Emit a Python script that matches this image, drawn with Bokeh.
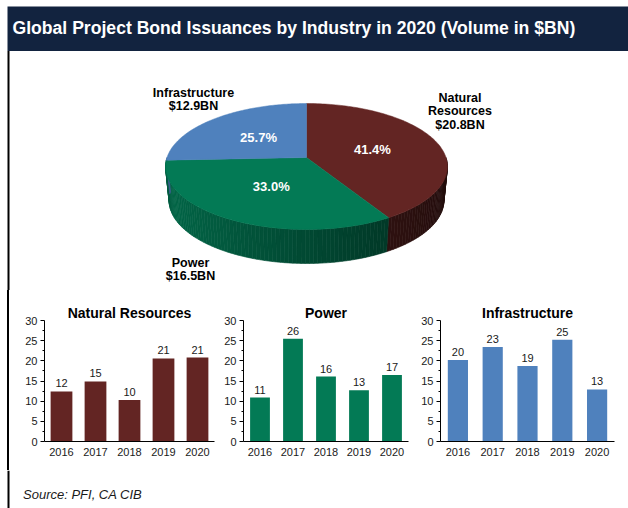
import numpy as np
from bokeh.plotting import figure
from bokeh.layouts import row, column
from bokeh.models import Range1d, FactorRange, FixedTicker, Spacer
from bokeh.embed import file_html
from bokeh.resources import INLINE
from bokeh.core.properties import value

# ---------------- data ----------------
TITLE = "Global Project Bond Issuances by Industry in 2020 (Volume in $BN)"
SOURCE = "Source: PFI, CA CIB"

industries = ["Natural Resources", "Power", "Infrastructure"]
volumes_2020 = [20.8, 16.5, 12.9]
shares = [41.4, 33.0, 25.7]
share_labels = ["41.4%", "33.0%", "25.7%"]
pie_label_lines = [["Natural", "Resources", "$20.8BN"],
                   ["Power", "$16.5BN"],
                   ["Infrastructure", "$12.9BN"]]

years = ["2016", "2017", "2018", "2019", "2020"]
nr_values = [12.4, 14.9, 10.3, 20.6, 20.8]
nr_labels = ["12", "15", "10", "21", "21"]
power_values = [10.9, 25.5, 16.1, 12.7, 16.5]
power_labels = ["11", "26", "16", "13", "17"]
infra_values = [20.2, 23.4, 18.7, 25.2, 12.9]
infra_labels = ["20", "23", "19", "25", "13"]

# ---------------- styles ----------------
FONT = "Liberation Sans"
NAVY = "#12233f"
COLORS = ["#632523", "#037a55", "#4f81bd"]
TEXT = "#1a1a1a"
W, H = 628, 508


def hex_rgb(h):
    h = h.lstrip("#")
    return tuple(int(h[i:i + 2], 16) for i in (0, 2, 4))


def shade(h, f):
    r, g, b = hex_rgb(h)
    return "#%02x%02x%02x" % (int(r * f), int(g * f), int(b * f))


# ---------------- top panel (title + 3D pie) ----------------
TOP_H = 290
top = figure(width=W, height=TOP_H, x_range=Range1d(0, W), y_range=Range1d(TOP_H, 0),
             output_backend="svg", toolbar_location=None, min_border=0,
             x_axis_type=None, y_axis_type=None)
top.grid.visible = False
top.outline_line_color = None
top.background_fill_color = "white"
top.border_fill_color = "white"

# title bar and left rule
top.quad(left=7, right=W, top=6, bottom=50.5, fill_color=NAVY, line_color=None)
top.quad(left=7, right=9, top=50.5, bottom=TOP_H, fill_color="black", line_color=None)
top.text(x=[12], y=[27], text=[TITLE], text_font=value(FONT), text_font_style="bold",
         text_font_size="17.6px", text_color="white", text_baseline="middle", text_align="left")

# pie geometry (perspective projection of a disc)
CX, CY, A, B, K, DEPTH, SB = 306.0, 157.0, 139.5, 61.7, 0.143, 34.0, 0.975


def proj(t_deg, r=1.0, bottom=False):
    t = np.radians(t_deg)
    u, v = r * np.cos(t), r * np.sin(t)
    d = 1 - K * v
    if bottom:
        return CX + A * SB * u / d, CY + DEPTH + B * v / d
    return CX + A * u / d, CY + B * v / d


fr = np.array(shares) / sum(shares)
starts = -90 + 360 * np.concatenate([[0], np.cumsum(fr)[:-1]])
ends = starts + 360 * fr

# side walls (front half), shaded strips
side_xs, side_ys, side_cols = [], [], []
for s, e, c in zip(starts, ends, COLORS):
    lo, hi = max(s, 0.0), min(e, 180.0)
    if hi <= lo:
        continue
    n = max(2, int((hi - lo) / 1.5))
    ts = np.linspace(lo, hi, n + 1)
    for t1, t2 in zip(ts[:-1], ts[1:]):
        x1, y1 = proj(t1)
        x2, y2 = proj(t2)
        bx2, by2 = proj(t2, bottom=True)
        bx1, by1 = proj(t1, bottom=True)
        side_xs.append([x1, x2, bx2, bx1])
        side_ys.append([y1, y2, by2, by1])
        um = np.cos(np.radians((t1 + t2) / 2))
        f = 0.85 - 0.5 * (um + 1) / 2
        if um < -0.9:
            f *= 1 - (-0.9 - um) * 1.2
        side_cols.append(shade(c, f))
top.patches(side_xs, side_ys, fill_color=side_cols, line_color=side_cols, line_width=0.6)

# top faces
for s, e, c in zip(starts, ends, COLORS):
    ts = np.linspace(s, e, 120)
    xs, ys = proj(ts)
    top.patch(np.concatenate([[CX], xs]), np.concatenate([[CY], ys]),
              fill_color=c, line_color=c, line_width=0.5)

# percentage labels at half radius of mid angle
mids = (starts + ends) / 2
lx, ly = proj(mids, r=0.5)
top.text(x=list(lx), y=list(ly), text=share_labels, text_font=value(FONT),
         text_font_style="bold", text_font_size="13px", text_color="white",
         text_align="center", text_baseline="middle")

# outer labels
label_anchor_x = [459.5, 190, 193]
label_anchor_y = [97, 262, 92]
LINE_H = 13.6
ox, oy, ot = [], [], []
for lines, ax, ay in zip(pie_label_lines, label_anchor_x, label_anchor_y):
    for i, txt in enumerate(lines):
        ox.append(ax)
        oy.append(ay + i * LINE_H)
        ot.append(txt)
top.text(x=ox, y=oy, text=ot, text_font=value(FONT), text_font_style="bold",
         text_font_size="12.5px", text_color="black", text_align="center",
         text_baseline="middle")

# ---------------- bar charts ----------------
ROW_H = 180


def bar_chart(title, vals, labels, color, width, mbl, mbr, mbt, mbb, bar_w, t_off):
    p = figure(width=width, height=ROW_H, x_range=FactorRange(*years), y_range=Range1d(0, 30),
               output_backend="svg", toolbar_location=None, title=title,
               min_border_left=mbl, min_border_right=mbr, min_border_top=mbt,
               min_border_bottom=mbb)
    p.title.text_font = FONT
    p.title.text_font_size = "14px"
    p.title.text_font_style = "bold"
    p.title.text_color = "black"
    p.title.align = "center"
    p.title.offset = t_off
    p.title.standoff = 0
    p.grid.visible = False
    p.outline_line_color = None
    p.background_fill_color = "white"
    p.border_fill_color = "white"
    p.vbar(x=years, top=vals, width=bar_w, fill_color=color, line_color=None)
    p.text(x=years, y=vals, text=labels, y_offset=-4, text_font=value(FONT),
           text_font_size="11px", text_color=TEXT, text_align="center",
           text_baseline="bottom")
    p.yaxis.ticker = FixedTicker(ticks=[0, 5, 10, 15, 20, 25, 30],
                                 minor_ticks=[2.5, 7.5, 12.5, 17.5, 22.5, 27.5])
    p.yaxis.major_tick_out = 4
    p.yaxis.major_tick_in = 0
    p.yaxis.minor_tick_out = 2
    p.yaxis.minor_tick_in = 0
    p.yaxis.major_label_standoff = 3
    p.xaxis.major_tick_out = 0
    p.xaxis.major_tick_in = 0
    p.xaxis.major_label_standoff = 6
    for ax in (p.xaxis, p.yaxis):
        ax.axis_line_color = "black"
        ax.major_tick_line_color = "black"
        ax.minor_tick_line_color = "black"
        ax.major_label_text_font = FONT
        ax.major_label_text_font_size = "11px"
        ax.major_label_text_color = TEXT
    return p


b1 = bar_chart(industries[0], nr_values, nr_labels, COLORS[0], 211, 34, 7, 30, 28, 0.64, -1.5)
b2 = bar_chart(industries[1], power_values, power_labels, COLORS[1], 193, 22, 6, 28, 29, 0.60, -11.5)
b3 = bar_chart(industries[2], infra_values, infra_labels, COLORS[2], 214, 26, 14, 28, 29, 0.58, -9)

border = Spacer(width=10, height=ROW_H,
                styles={"background": "linear-gradient(to right, white 0px, white 7px, "
                                      "black 7px, black 9px, white 9px, white 10px)"})

# ---------------- bottom panel (source) ----------------
BOT_H = H - TOP_H - ROW_H
bottom = figure(width=W, height=BOT_H, x_range=Range1d(0, W), y_range=Range1d(H, H - BOT_H),
                output_backend="svg", toolbar_location=None, min_border=0,
                x_axis_type=None, y_axis_type=None)
bottom.grid.visible = False
bottom.outline_line_color = None
bottom.quad(left=7, right=9, top=H - BOT_H, bottom=H, fill_color="black", line_color=None)
bottom.text(x=[22.5], y=[494], text=[SOURCE], text_font=value(FONT), text_font_style="italic",
            text_font_size="13px", text_color=TEXT, text_align="left", text_baseline="middle")

layout = column(top, row(border, b1, b2, b3), bottom)
open("out.html", "w").write(file_html(layout, INLINE))
